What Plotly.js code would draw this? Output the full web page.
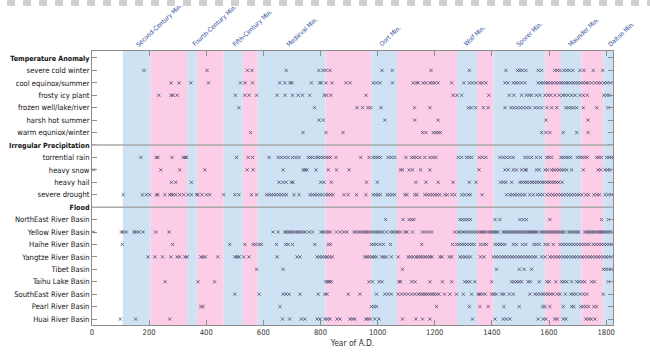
<!DOCTYPE html>
<html>
<head>
<meta charset="utf-8">
<script src="https://cdn.plot.ly/plotly-3.0.1.min.js"></script>
<style>
  html, body { margin: 0; padding: 0; background: #fff; }
  #wrap { position: relative; width: 650px; height: 362px; }
  #chart { width: 650px; height: 362px; }
  #strip { position: absolute; left: 0; top: 0; width: 650px; height: 6px;
    background: repeating-linear-gradient(90deg, #fff 0px, #fff 7px, #d0d0d0 7px, #d0d0d0 15px, #fff 15px, #fff 16px);
    z-index: 5; pointer-events: none; }
</style>
</head>
<body>
<div id="wrap"><div id="strip"></div><div id="chart"></div></div>
<script>
// ---------- categories (top to bottom) ----------
const rowLabels = [
  "Temperature Anomaly", "severe cold winter", "cool equinox/summer", "frosty icy plant",
  "frozen well/lake/river", "harsh hot summer", "warm equniox/winter",
  "Irregular Precipitation", "torrential rain", "heavy snow", "heavy hail", "severe drought",
  "Flood", "NorthEast River Basin", "Yellow River Basin", "Haihe River Basin",
  "Yangtze River Basin", "Tibet Basin", "Taihu Lake Basin", "SouthEast River Basin",
  "Pearl River Basin", "Huai River Basin"
];
const headerRows = ["Temperature Anomaly", "Irregular Precipitation", "Flood"];
const separatorRows = ["Irregular Precipitation", "Flood"];

// ---------- event years per category ----------
const severeColdWinter = [182, 403, 544, 560, 680, 794, 809, 819, 833, 1015, 1051, 1187, 1321, 1449, 1490, 1498, 1507, 1519, 1562, 1574, 1620, 1629, 1638, 1652, 1662, 1671, 1683, 1708, 1722, 1755, 1788];
const coolEquinoxSummer = [277, 305, 346, 408, 520, 536, 562, 657, 675, 693, 700, 768, 797, 803, 819, 840, 889, 903, 984, 996, 1008, 1052, 1124, 1136, 1142, 1159, 1169, 1183, 1192, 1200, 1212, 1259, 1302, 1321, 1332, 1344, 1358, 1367, 1379, 1446, 1457, 1475, 1484, 1493, 1504, 1516, 1562, 1571, 1580, 1589, 1597, 1606, 1615, 1624, 1633, 1642, 1650, 1659, 1667, 1676, 1685, 1693, 1702, 1711, 1720, 1729, 1737, 1749, 1761, 1772, 1781, 1793, 1802, 1815];
const frostyIcyPlant = [234, 277, 284, 298, 502, 535, 550, 576, 648, 676, 702, 722, 737, 762, 813, 821, 836, 959, 1264, 1278, 1294, 1389, 1461, 1477, 1504, 1521, 1531, 1539, 1556, 1568, 1586, 1597, 1606, 1621, 1636, 1648, 1656, 1667, 1679, 1691, 1708, 1720, 1734, 1792, 1802, 1811];
const frozenWellLakeRiver = [514, 779, 928, 947, 966, 976, 1012, 1129, 1183, 1318, 1328, 1343, 1370, 1387, 1446, 1467, 1478, 1489, 1500, 1511, 1522, 1533, 1551, 1562, 1574, 1592, 1609, 1627, 1659, 1668, 1677, 1686, 1697, 1720, 1767, 1807];
const harshHotSummer = [795, 810, 1025, 1130, 1212, 1589, 1737];
const warmEquinoxWinter = [555, 739, 819, 879, 1157, 1169, 1195, 1204, 1212, 1220, 1574, 1589, 1603, 1650, 1697, 1737];
const torrentialRain = [171, 225, 231, 280, 319, 326, 331, 506, 547, 562, 620, 652, 663, 675, 687, 702, 714, 725, 757, 765, 772, 784, 792, 800, 809, 819, 827, 835, 854, 941, 970, 984, 993, 1001, 1010, 1037, 1048, 1060, 1099, 1119, 1127, 1136, 1148, 1165, 1183, 1194, 1204, 1282, 1294, 1311, 1320, 1329, 1356, 1367, 1379, 1428, 1440, 1451, 1463, 1475, 1516, 1527, 1539, 1556, 1570, 1592, 1600, 1609, 1642, 1650, 1659, 1667, 1676, 1699, 1708, 1716, 1725, 1734, 1767, 1775, 1784, 1802, 1811, 1819];
const heavySnow = [5, 241, 307, 395, 543, 564, 669, 739, 746, 753, 784, 827, 856, 900, 1080, 1087, 1110, 1122, 1150, 1183, 1355, 1446, 1457, 1475, 1486, 1504, 1516, 1521, 1556, 1566, 1586, 1595, 1609, 1617, 1626, 1635, 1644, 1653, 1662, 1679, 1720, 1772, 1781, 1796, 1805, 1813];
const heavyHail = [278, 293, 348, 655, 669, 680, 698, 704, 801, 812, 838, 961, 999, 1134, 1169, 1212, 1264, 1321, 1344, 1430, 1440, 1449, 1469, 1498, 1506, 1515, 1523, 1532, 1541, 1549, 1557, 1566, 1575, 1583, 1592, 1600, 1609, 1617, 1626, 1634, 1646];
const severeDrought = [109, 176, 190, 202, 225, 231, 255, 272, 278, 284, 293, 307, 321, 336, 348, 366, 371, 385, 401, 412, 461, 500, 514, 558, 576, 611, 620, 628, 636, 645, 654, 663, 672, 681, 707, 725, 763, 772, 780, 789, 798, 807, 819, 827, 835, 844, 882, 897, 926, 959, 984, 993, 1001, 1010, 1033, 1042, 1051, 1060, 1095, 1103, 1130, 1138, 1165, 1174, 1183, 1192, 1201, 1209, 1218, 1235, 1244, 1259, 1270, 1294, 1305, 1317, 1325, 1366, 1451, 1463, 1472, 1480, 1489, 1498, 1507, 1516, 1533, 1545, 1559, 1568, 1578, 1592, 1603, 1613, 1622, 1631, 1641, 1650, 1659, 1669, 1678, 1687, 1697, 1706, 1715, 1729, 1739, 1757, 1767, 1776, 1796, 1807, 1819];
const northEastRiverBasin = [1028, 1089, 1110, 1119, 1127, 1288, 1297, 1306, 1315, 1325, 1411, 1428, 1498, 1510, 1521, 1603, 1784, 1808];
const yellowRiverBasin = [3, 103, 109, 120, 147, 155, 165, 179, 223, 270, 634, 652, 675, 681, 689, 697, 705, 713, 721, 729, 737, 746, 760, 772, 801, 809, 818, 827, 835, 856, 870, 882, 893, 917, 926, 934, 943, 951, 959, 967, 976, 985, 993, 1001, 1010, 1018, 1031, 1045, 1054, 1063, 1071, 1080, 1095, 1103, 1122, 1157, 1167, 1178, 1189, 1270, 1282, 1290, 1299, 1308, 1317, 1326, 1335, 1344, 1353, 1362, 1368, 1376, 1385, 1393, 1401, 1408, 1415, 1422, 1438, 1445, 1452, 1459, 1466, 1473, 1480, 1487, 1494, 1501, 1508, 1515, 1522, 1530, 1537, 1544, 1551, 1558, 1570, 1577, 1584, 1591, 1598, 1605, 1612, 1619, 1626, 1633, 1640, 1647, 1654, 1668, 1675, 1682, 1690, 1697, 1704, 1725, 1732, 1739, 1746, 1753, 1760, 1767, 1775, 1782, 1789, 1797, 1804, 1811, 1818];
const haiheRiverBasin = [106, 282, 482, 535, 564, 573, 585, 593, 646, 678, 687, 702, 780, 827, 835, 978, 987, 996, 1008, 1020, 1045, 1154, 1262, 1276, 1285, 1294, 1302, 1311, 1321, 1330, 1339, 1360, 1372, 1381, 1411, 1420, 1428, 1437, 1446, 1475, 1486, 1507, 1519, 1547, 1556, 1566, 1586, 1597, 1615, 1638, 1648, 1657, 1666, 1676, 1685, 1694, 1704, 1713, 1722, 1732, 1741, 1755, 1764, 1774, 1783, 1792, 1801, 1811, 1820];
const yangtzeRiverBasin = [196, 220, 247, 276, 298, 307, 325, 333, 381, 389, 397, 440, 500, 508, 515, 531, 550, 648, 718, 728, 788, 797, 806, 815, 823, 832, 841, 955, 963, 971, 980, 988, 996, 1014, 1022, 1031, 1048, 1072, 1107, 1115, 1124, 1134, 1142, 1150, 1157, 1166, 1174, 1183, 1190, 1218, 1226, 1251, 1259, 1288, 1297, 1306, 1315, 1325, 1360, 1372, 1405, 1414, 1423, 1433, 1442, 1451, 1461, 1470, 1479, 1489, 1498, 1507, 1517, 1526, 1535, 1545, 1554, 1574, 1586, 1603, 1612, 1622, 1631, 1640, 1650, 1659, 1668, 1678, 1687, 1696, 1706, 1715, 1724, 1734, 1743, 1752, 1762, 1771, 1780, 1790, 1799, 1808, 1818];
const tibetBasin = [576, 669, 1087, 1416, 1496, 1513, 1539, 1790, 1799, 1808, 1818];
const taihuLakeBasin = [256, 371, 429, 819, 826, 832, 838, 970, 982, 1005, 1015, 1075, 1080, 1119, 1131, 1183, 1227, 1259, 1305, 1314, 1323, 1340, 1399, 1469, 1478, 1487, 1496, 1504, 1527, 1535, 1566, 1592, 1601, 1624, 1644, 1653, 1662, 1679, 1697, 1706, 1716, 1725, 1749, 1759, 1808];
const southEastRiverBasin = [500, 585, 669, 679, 690, 728, 792, 815, 823, 897, 938, 996, 1025, 1037, 1048, 1072, 1084, 1095, 1107, 1119, 1130, 1142, 1150, 1158, 1166, 1174, 1182, 1190, 1198, 1206, 1215, 1234, 1253, 1276, 1300, 1329, 1352, 1358, 1367, 1377, 1399, 1407, 1416, 1434, 1442, 1461, 1475, 1533, 1551, 1560, 1570, 1579, 1588, 1597, 1606, 1615, 1629, 1638, 1657, 1676, 1685, 1694, 1708, 1720, 1732, 1790];
const pearlRiverBasin = [381, 389, 658, 978, 987, 996, 1206, 1321, 1358, 1387, 1442, 1496, 1578, 1586, 1603, 1650, 1679, 1687, 1711, 1720, 1729, 1739, 1757, 1767];
const huaiRiverBasin = [99, 153, 272, 667, 692, 733, 745, 788, 798, 815, 824, 833, 858, 868, 903, 912, 920, 959, 967, 975, 990, 1005, 1087, 1134, 1157, 1183, 1332, 1411, 1440, 1451, 1463, 1562, 1580, 1589, 1620, 1629, 1650, 1659, 1729, 1739, 1748, 1761];

const rowEvents = {
  "severe cold winter": severeColdWinter,
  "cool equinox/summer": coolEquinoxSummer,
  "frosty icy plant": frostyIcyPlant,
  "frozen well/lake/river": frozenWellLakeRiver,
  "harsh hot summer": harshHotSummer,
  "warm equniox/winter": warmEquinoxWinter,
  "torrential rain": torrentialRain,
  "heavy snow": heavySnow,
  "heavy hail": heavyHail,
  "severe drought": severeDrought,
  "NorthEast River Basin": northEastRiverBasin,
  "Yellow River Basin": yellowRiverBasin,
  "Haihe River Basin": haiheRiverBasin,
  "Yangtze River Basin": yangtzeRiverBasin,
  "Tibet Basin": tibetBasin,
  "Taihu Lake Basin": taihuLakeBasin,
  "SouthEast River Basin": southEastRiverBasin,
  "Pearl River Basin": pearlRiverBasin,
  "Huai River Basin": huaiRiverBasin
};

// ---------- background periods (years) ----------
const periodStart = [108, 205, 333, 367, 461, 528, 580, 818, 978, 1068, 1278, 1348, 1406, 1587, 1642, 1713, 1791];
const periodEnd   = [205, 333, 367, 461, 528, 580, 818, 978, 1068, 1278, 1348, 1406, 1587, 1642, 1713, 1791, 1824];
const periodKind  = ["cold", "warm", "cold", "warm", "cold", "warm", "cold", "warm", "cold", "warm", "cold", "warm", "cold", "warm", "cold", "warm", "cold"];

// ---------- solar minima labels ----------
const minimaNames = ["Second-Century Min.", "Fourth-Century Min.", "Fifth-Century Min.", "Medieval Min.", "Oort Min.", "Wolf Min.", "Sporer Min.", "Maunder Min.", "Dalton Min."];
const minimaYears = [140, 335, 478, 665, 990, 1287, 1471, 1653, 1793];

const xTicks = [0, 200, 400, 600, 800, 1000, 1200, 1400, 1600, 1800];

// ---------- build ----------
const FONT = "DejaVu Sans Condensed, Liberation Sans, Arial, sans-serif";
const colors = { cold: "#cfe2f3", warm: "#fbcde7" };
const rowIndex = {};
rowLabels.forEach((r, i) => rowIndex[r] = i);

const traces = [];
Object.keys(rowEvents).forEach(name => {
  const xs = rowEvents[name];
  traces.push({
    type: "scatter", mode: "markers",
    x: xs, y: xs.map(() => rowIndex[name]),
    marker: { symbol: "x-thin", size: 3.2, color: "rgba(60,60,95,0.7)",
              line: { width: 1, color: "rgba(60,60,95,0.7)" } },
    hoverinfo: "skip", showlegend: false, cliponaxis: false
  });
});

const shapes = [];
periodStart.forEach((s, i) => {
  shapes.push({ type: "rect", xref: "x", yref: "paper", x0: s, x1: periodEnd[i], y0: 0, y1: 1,
    fillcolor: colors[periodKind[i]], line: { width: 0 }, layer: "below" });
});
separatorRows.forEach(r => {
  shapes.push({ type: "line", xref: "paper", yref: "y", x0: 0, x1: 1, y0: rowIndex[r], y1: rowIndex[r],
    line: { color: "#a9a9a9", width: 1.5 }, layer: "above" });
});

const annotations = minimaNames.map((n, i) => ({
  text: n, x: minimaYears[i], xref: "x", y: 1, yref: "paper",
  xanchor: "left", yanchor: "bottom", showarrow: false, textangle: -43, yshift: 0,
  font: { family: FONT, size: 6.4, color: "#2e4a9b" }
}));

const tickText = rowLabels.map(r => headerRows.includes(r)
  ? '<span style="font-size:7.1px"><b>' + r + '</b></span>' : r);

const layout = {
  width: 650, height: 362,
  margin: { l: 92, r: 37, t: 51, b: 37 },
  paper_bgcolor: "#fff", plot_bgcolor: "#fff",
  showlegend: false,
  font: { family: FONT, size: 7.6, color: "#222" },
  xaxis: {
    range: [0, 1824], tickvals: xTicks, ticktext: xTicks.map(String),
    ticks: "inside", ticklen: 5, tickcolor: "#8c8c8c", tickwidth: 1,
    showline: true, linecolor: "#8c8c8c", linewidth: 1, mirror: "ticks",
    showgrid: false, zeroline: false,
    tickfont: { family: FONT, size: 7.6, color: "#333" },
    title: { text: "Year of A.D.", font: { family: FONT, size: 8.4, color: "#333" }, standoff: 3 }
  },
  yaxis: {
    range: [21.48, -0.56], tickvals: rowLabels.map((r, i) => i), ticktext: tickText,
    ticks: "inside", ticklen: 5, tickcolor: "#8c8c8c", tickwidth: 1,
    showline: true, linecolor: "#8c8c8c", linewidth: 1, mirror: "ticks",
    showgrid: false, zeroline: false,
    tickfont: { family: FONT, size: 7.6, color: "#111" }
  },
  shapes: shapes,
  annotations: annotations
};

Plotly.newPlot("chart", traces, layout, { displayModeBar: false, staticPlot: true });
</script>
</body>
</html>
